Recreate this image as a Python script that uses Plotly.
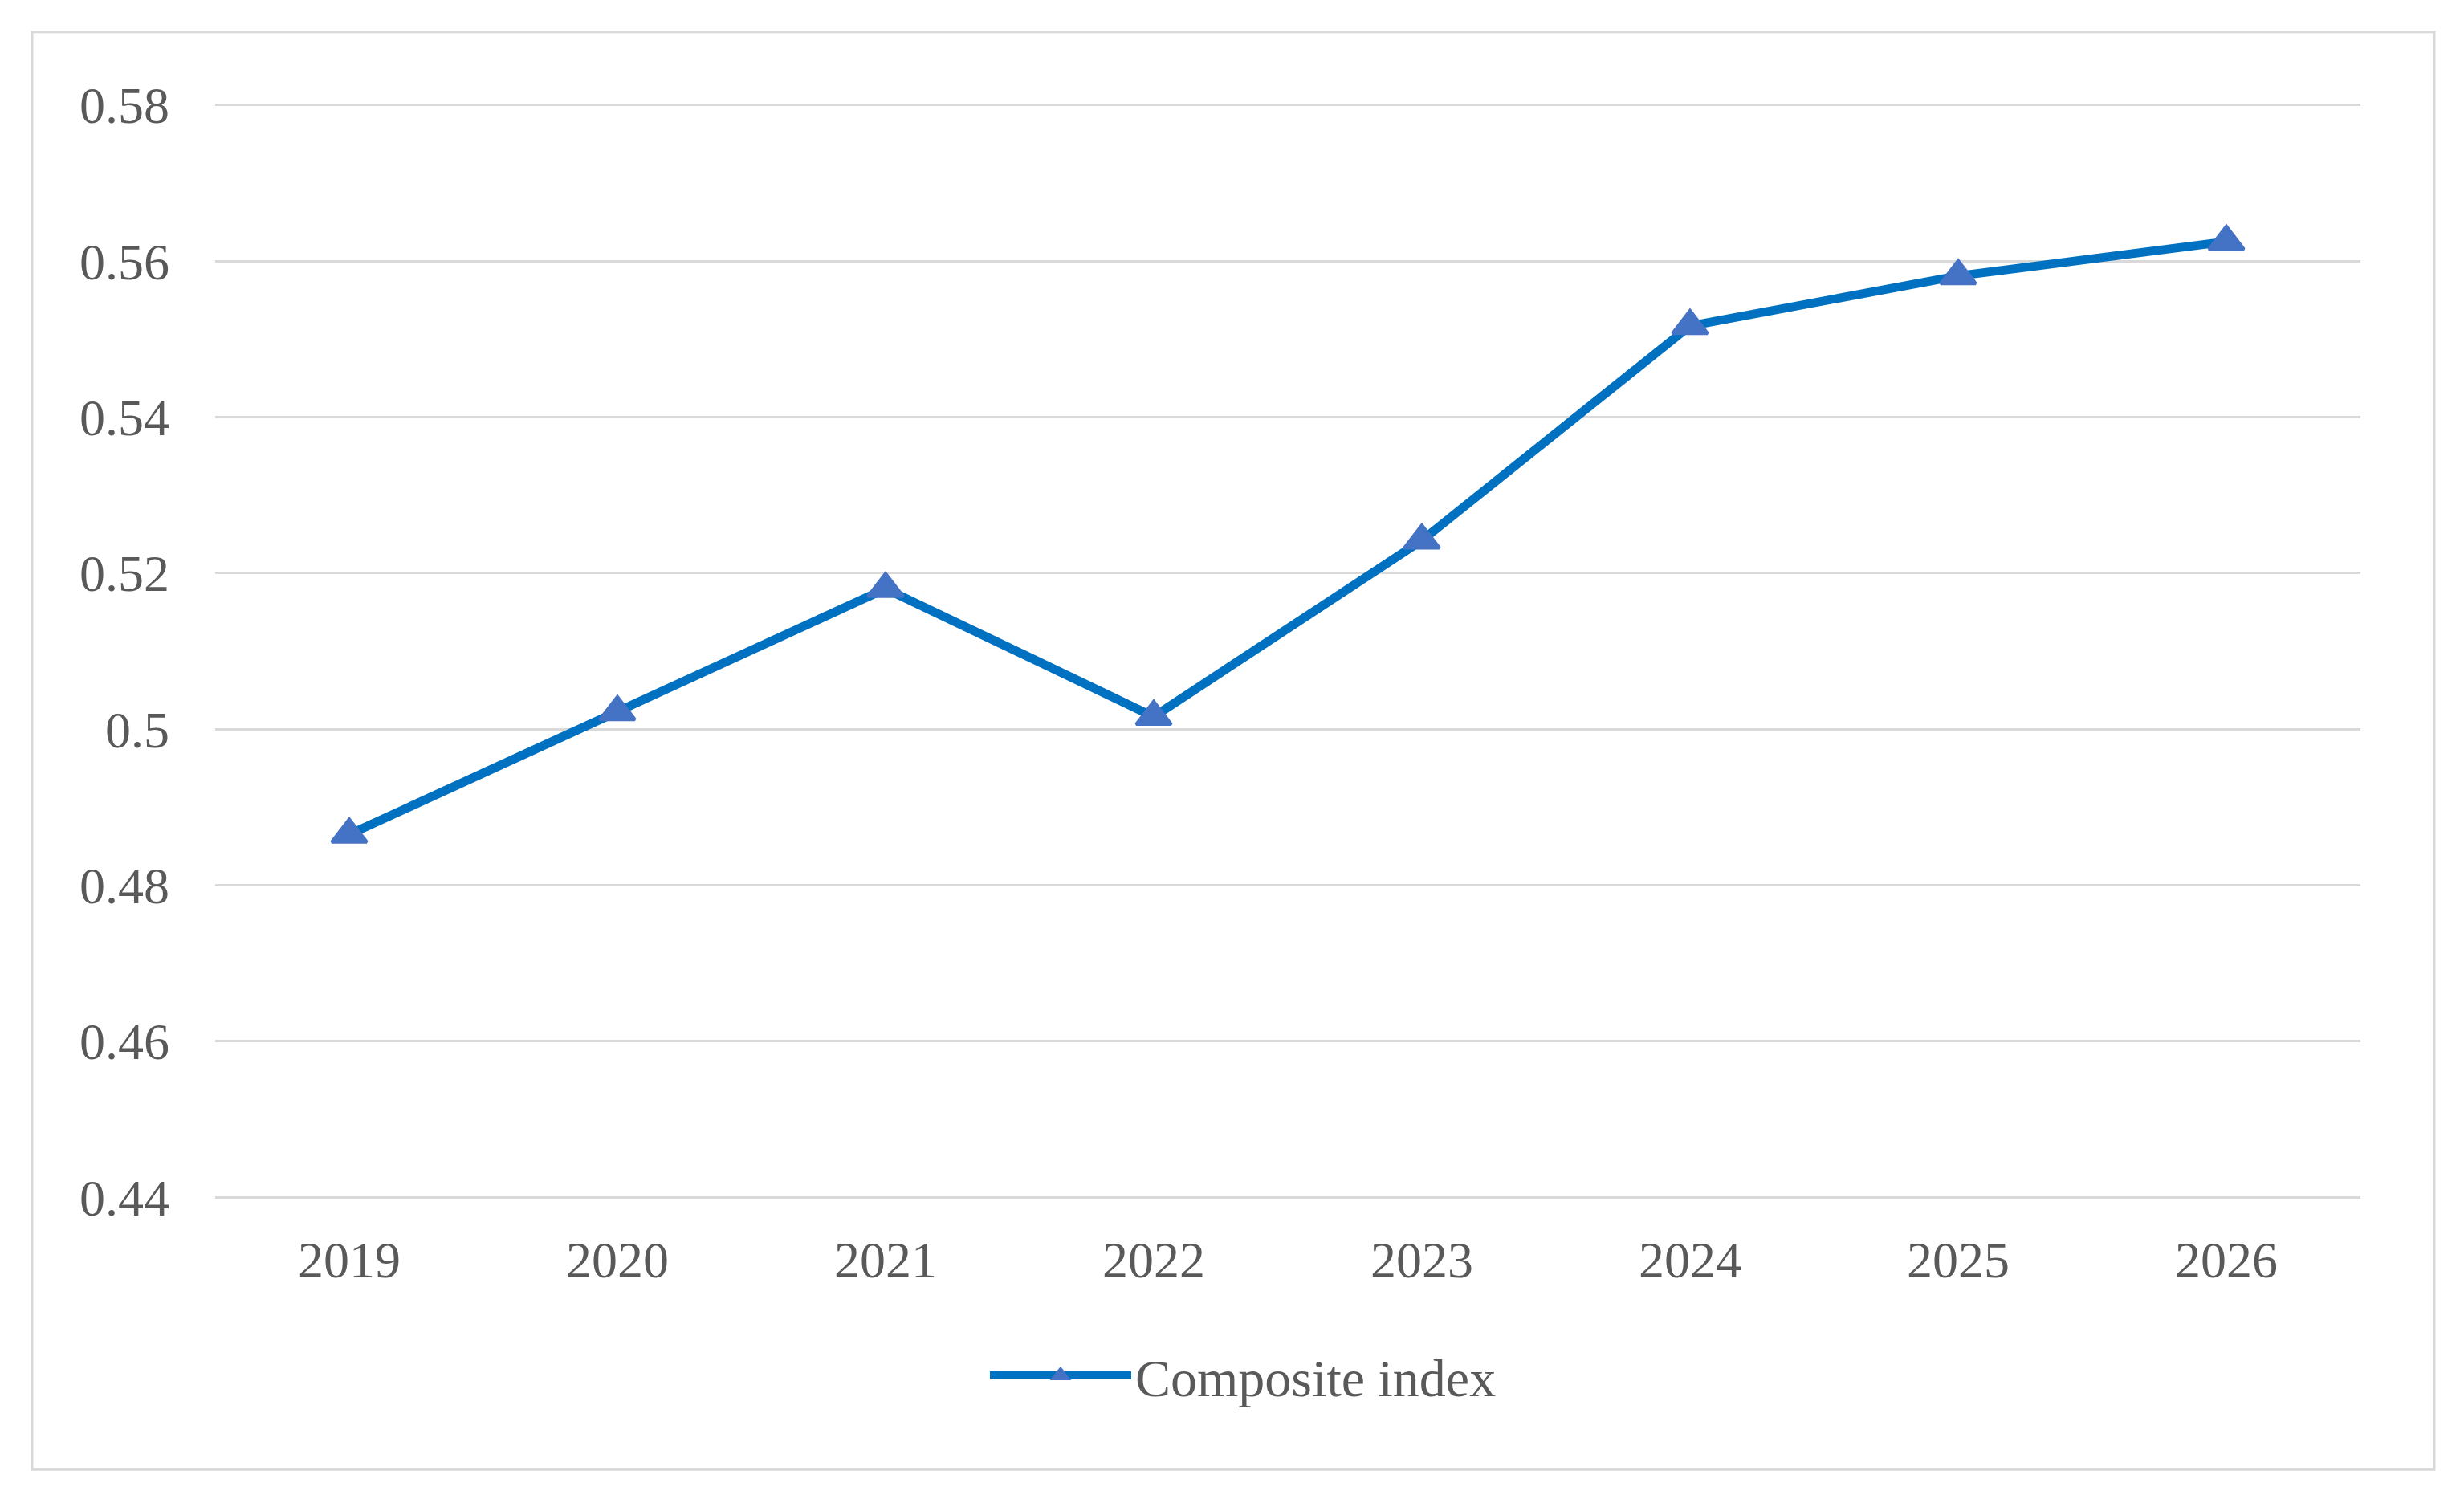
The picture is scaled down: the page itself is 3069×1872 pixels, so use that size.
import plotly.graph_objects as go

years = ["2019", "2020", "2021", "2022", "2023", "2024", "2025", "2026"]
composite_index = [0.4865, 0.5022, 0.5180, 0.5016, 0.5242, 0.5517, 0.5581, 0.5625]
series_name = "Composite index"
y_tickvals = [0.44, 0.46, 0.48, 0.50, 0.52, 0.54, 0.56, 0.58]
y_ticktext = ["0.44", "0.46", "0.48", "0.5", "0.52", "0.54", "0.56", "0.58"]

W, H = 3069, 1872
# pixel geometry of the reference: 0.58 grid at y=131, 0.44 grid at y=1491
y_lo, y_hi = 0.44, 0.58
pad_v = 0.0005
ppu = (1491 - 131) / (y_hi - y_lo)
L, R = 268, W - 2940
T = 131 - pad_v * ppu
B = H - (1491 + pad_v * ppu)
pw, ph = W - L - R, H - T - B

def px_x(p):
    return (p - L) / pw

def px_y(p):
    return (H - B - p) / ph

font_family = "Liberation Serif, Times New Roman, serif"
text_color = "#595959"

fig = go.Figure()
fig.add_trace(go.Scatter(
    x=years, y=composite_index, name=series_name,
    mode="lines+markers",
    line=dict(color="#0070C0", width=11),
    marker=dict(symbol="triangle-up", size=38, color="#4472C4",
                line=dict(color="#4472C4", width=4)),
))

fig.update_layout(
    width=W, height=H,
    margin=dict(l=L, r=R, t=T, b=B, pad=0),
    paper_bgcolor="white", plot_bgcolor="white",
    font=dict(family=font_family, size=64, color=text_color),
    showlegend=True,
    legend=dict(
        orientation="h",
        x=px_x(1228), xanchor="left",
        y=px_y(1713), yanchor="middle",
        font=dict(family=font_family, size=66, color=text_color),
        itemwidth=176,
        bgcolor="rgba(0,0,0,0)",
    ),
    xaxis=dict(
        type="category", range=[-0.5, len(years) - 0.5],
        showgrid=False, zeroline=False, showline=False,
        ticks="", ticklabelstandoff=30,
        tickfont=dict(family=font_family, size=64, color=text_color),
    ),
    yaxis=dict(
        range=[y_lo - pad_v, y_hi + pad_v],
        tickvals=y_tickvals, ticktext=y_ticktext,
        showgrid=True, gridcolor="#D9D9D9", gridwidth=3,
        zeroline=False, showline=False, ticks="",
        ticklabelstandoff=56,
        tickfont=dict(family=font_family, size=64, color=text_color),
    ),
    shapes=[dict(
        type="rect", xref="paper", yref="paper",
        x0=px_x(40), x1=px_x(3032), y0=px_y(1830), y1=px_y(40),
        line=dict(color="#D9D9D9", width=3), fillcolor="rgba(0,0,0,0)",
        layer="below",
    )],
)

fig.write_html("out.html", config={"displayModeBar": False},
               post_script="document.body.style.margin='0';")
